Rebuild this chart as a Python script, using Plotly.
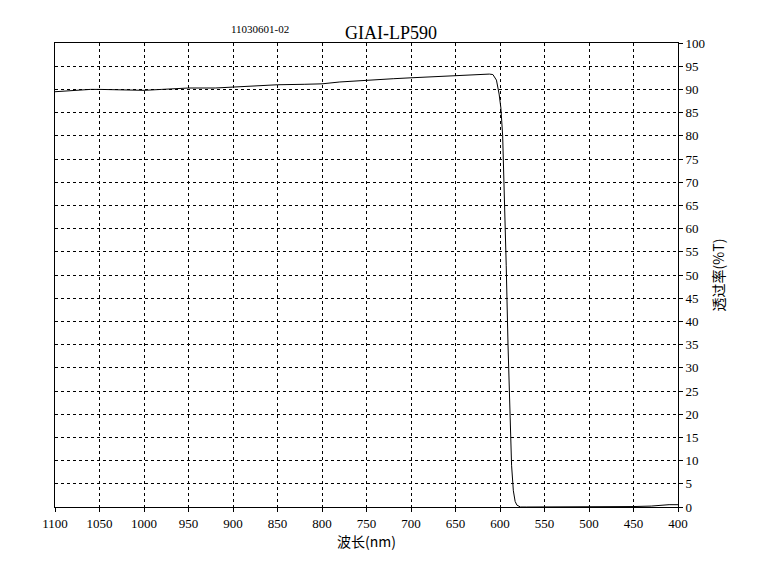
import plotly.graph_objects as go

wavelength = [1100,1080,1060,1050,1030,1000,980,950,920,900,880,850,820,800,780,750,720,700,680,650,630,612,608,604,601,599,597,595,593,591,589,587,585,583,581,579,577,570,550,520,500,470,450,430,420,410,400]
transmit =   [89.5,89.8,90.0,90.0,89.9,89.8,90.0,90.3,90.3,90.5,90.7,91.0,91.1,91.2,91.6,92.0,92.3,92.5,92.7,93.0,93.1,93.3,93.2,92.0,89.0,86.0,80.0,68.0,52.0,35.0,20.0,9.0,3.5,1.2,0.4,0.1,0.0,0.0,0.0,0.0,0.0,0.05,0.1,0.2,0.4,0.5,0.5]

xticks = list(range(400, 1101, 50))
yticks = list(range(0, 101, 5))

fig = go.Figure(go.Scatter(x=wavelength, y=transmit, mode="lines",
                           line=dict(color="black", width=1), showlegend=False))
font = dict(family="Liberation Serif, DejaVu Serif, serif", color="black", size=13)
fig.update_layout(
    width=761, height=563, paper_bgcolor="white", plot_bgcolor="white",
    margin=dict(l=47, r=91, t=35, b=64), font=font,
    xaxis=dict(range=[1100, 400], tickvals=xticks, showgrid=True, gridcolor="black",
               griddash="3px,3px", gridwidth=1, showline=True, linecolor="black", mirror=True,
               ticks="outside", ticklen=4, tickcolor="black", zeroline=False,
               title=dict(text="波长(nm)", font=dict(size=14, family="Noto Sans CJK SC"), standoff=4)),
    yaxis=dict(range=[0, 100], tickvals=yticks, side="right", showgrid=True, gridcolor="black",
               griddash="3px,3px", gridwidth=1, showline=True, linecolor="black", mirror=True,
               ticks="outside", ticklen=4, tickcolor="black", zeroline=False,
               title=dict(text="透过率(%T)", font=dict(size=14, family="Noto Sans CJK SC"), standoff=10)),
    annotations=[
        dict(text="GIAI-LP590", x=0.54, y=1.0, xref="paper", yref="paper", yshift=22,
             showarrow=False, font=dict(size=18, family="Liberation Serif")),
        dict(text="11030601-02", x=0.28, y=1.0, xref="paper", yref="paper", yshift=22,
             showarrow=False, font=dict(size=11, family="Liberation Serif")),
    ],
)
fig.write_html("out.html")
